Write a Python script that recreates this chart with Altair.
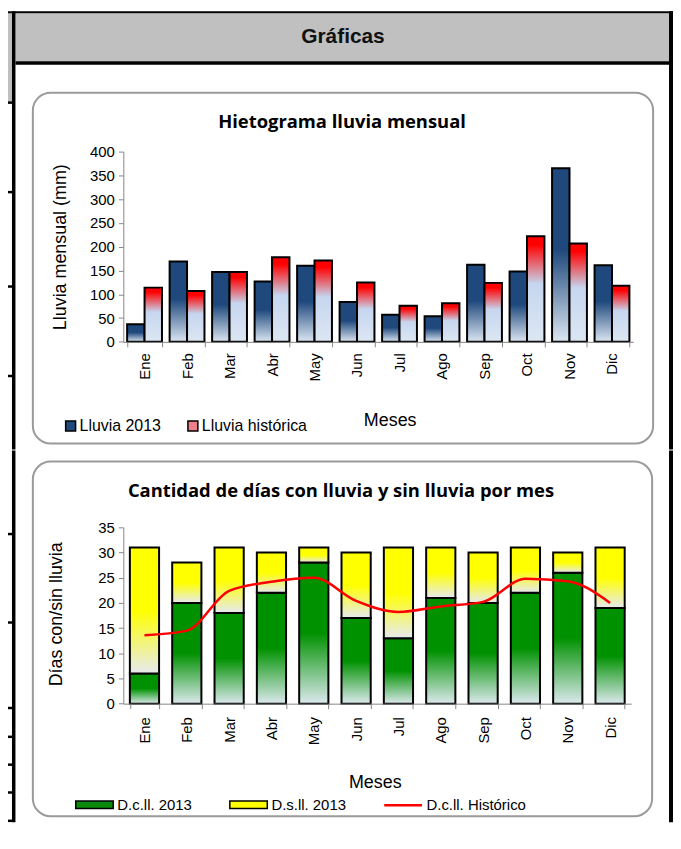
import altair as alt
import pandas as pd

# ---------------- data ----------------
meses = ['Ene', 'Feb', 'Mar', 'Abr', 'May', 'Jun', 'Jul', 'Ago', 'Sep', 'Oct', 'Nov', 'Dic']
series_lluvia = ['Lluvia 2013', 'Lluvia histórica']
lluvia_2013 = [37, 169, 147, 127, 160, 84, 57, 54, 162, 148, 365, 161]
lluvia_hist = [114, 107, 147, 178, 171, 125, 76, 81, 124, 222, 207, 118]

tipos_dias = ['D.c.ll. 2013', 'D.s.ll. 2013']
dias_mes = [31, 28, 31, 30, 31, 30, 31, 31, 30, 31, 30, 31]
dcll_2013 = [6, 20, 18, 22, 28, 17, 13, 21, 20, 22, 26, 19]
nombre_hist = 'D.c.ll. Histórico'
dcll_hist = [13.6, 14.5, 22.4, 24.2, 25.0, 20.4, 18.2, 19.3, 20.2, 24.8, 24.3, 20.0]

dsll_2013 = [d - c for d, c in zip(dias_mes, dcll_2013)]

df_ll = pd.DataFrame({
    'mes': meses * 2,
    'serie': [s for s in series_lluvia for _ in meses],
    'mm': lluvia_2013 + lluvia_hist,
})
df_d = pd.DataFrame({
    'mes': meses * 2,
    'tipo': [t for t in tipos_dias for _ in meses],
    'dias': dcll_2013 + dsll_2013,
    'orden': [0] * 12 + [1] * 12,
})
df_h = pd.DataFrame({'mes': meses, 'serie_h': [nombre_hist] * 12, 'dias': dcll_hist})

# ---------------- styles ----------------
FONT = 'Liberation Sans'
TFONT = 'Open Sans'


def grad(stops):
    return {"gradient": "linear", "x1": 0, "y1": 0, "x2": 0, "y2": 1,
            "stops": [{"offset": o, "color": c} for o, c in stops]}


GRAD_AZUL = grad([(0, '#1F497D'), (0.47, '#1F497D'), (1, '#DCE6F2')])
GRAD_ROJO = grad([(0, '#FF0000'), (0.08, '#FF0000'), (0.45, '#C6D6EF'), (1, '#DDE7F3')])
GRAD_VERDE = grad([(0, '#009100'), (0.5, '#009100'), (1, '#DCE9EE')])
GRAD_AMAR = grad([(0, '#FFFF00'), (0.5, '#FFFF00'), (1, '#E6EAF0')])

ONE = alt.Data(values=[{"k": 1}])


def box(x, x2, y, y2, **kw):
    return alt.Chart(ONE).mark_rect(**kw).encode(
        x=alt.value(x), x2=alt.value(x2), y=alt.value(y), y2=alt.value(y2))


def label(x, y, text, **kw):
    return alt.Chart(ONE).mark_text(text=text, **kw).encode(x=alt.value(x), y=alt.value(y))


ax_common = dict(labelFont=FONT, labelFontSize=15, labelColor='black',
                 domainColor='#868686', tickColor='#868686', tickSize=5, grid=False,
                 titleFont=FONT, titleFontSize=18, titleFontWeight='normal', titleColor='black',
                 zindex=1)

# ---------------- chart 1 ----------------
W1, H1 = 513, 191.4
xs1 = alt.Scale(paddingInner=0.18, paddingOuter=0.09)
x1 = alt.X('mes:N', sort=meses, scale=xs1,
           axis=alt.Axis(labelAngle=270, tickBand='extent', labelPadding=6, title='Meses',
                         titleX=268, titleY=79, titleBaseline='middle', titleAlign='center',
                         **ax_common))
y1 = alt.Y('mm:Q', scale=alt.Scale(domain=[0, 400]),
           axis=alt.Axis(values=list(range(0, 401, 50)), labelPadding=4,
                         title='Lluvia mensual (mm)', titleX=-63, titleY=H1 / 2,
                         titleAngle=270, titleAlign='center', titleBaseline='middle',
                         **ax_common))
xo1 = alt.XOffset('serie:N', sort=series_lluvia, scale=alt.Scale(paddingInner=0, paddingOuter=0))

bars1 = alt.Chart(df_ll).mark_bar(stroke='black', strokeWidth=2).encode(
    x=x1, xOffset=xo1, y=y1,
    fill=alt.condition(alt.datum.serie == series_lluvia[0], alt.value(GRAD_AZUL), alt.value(GRAD_ROJO)),
)
leg1 = alt.Chart(df_ll).mark_square(opacity=0, size=1, stroke='black').encode(
    x=alt.value(0), y=alt.value(0),
    color=alt.Color('serie:N', sort=series_lluvia,
                    scale=alt.Scale(domain=series_lluvia, range=['#1F497D', '#EE7F8C']),
                    legend=alt.Legend(title=None, orient='none', legendX=-61, legendY=268,
                                      direction='horizontal', symbolType='square', symbolSize=100,
                                      symbolStrokeColor='black', symbolStrokeWidth=1.5,
                                      symbolOpacity=1, labelFont=FONT, labelFontSize=16,
                                      labelColor='black', labelOffset=1, columnPadding=24,
                                      padding=0)),
)

deco1 = [
    box(-116, 553, -141.3, 299.7, fill='white'),
    box(-116, 553, -141.3, -138.8, fill='black'),
    box(-108.5, 549, -138.8, -90.8, fill='#C0C0C0'),
    box(-108.5, 553, -90.8, -87.3, fill='black'),
    box(-116, -112, -138.8, -49.3, fill='#C0C0C0'),
    box(-112, -108.5, -141.3, 299.7, fill='black'),
    box(549, 553, -141.3, 299.7, fill='black'),
] + [box(-116, -112, yy, yy + 2.5, fill='black') for yy in (-50.5, 39.5, 134.5, 224.5)] + [
    box(-91, 533, -59.3, 293.7, filled=False, stroke='#9A9A9A', strokeWidth=2, cornerRadius=18),
    label(221, -115.3, 'Gráficas', font=FONT, fontSize=21, fontWeight='bold', color='#111111',
          align='center', baseline='middle'),
    label(220, -29.3, 'Hietograma lluvia mensual', font=TFONT, fontSize=18.5, fontWeight='bold',
          color='black', align='center', baseline='middle'),
]

chart1 = alt.layer(*deco1, bars1, leg1).properties(width=W1, height=H1)

# ---------------- chart 2 ----------------
W2, H2 = 511, 177.4
xs2 = alt.Scale(paddingInner=0.31, paddingOuter=0.155)
x2 = alt.X('mes:N', sort=meses, scale=xs2,
           axis=alt.Axis(labelAngle=270, tickBand='extent', labelPadding=8, title='Meses',
                         titleX=253, titleY=79, titleBaseline='middle', titleAlign='center',
                         **ax_common))
ys2 = alt.Scale(domain=[0, 35])
ax_y2 = alt.Axis(values=list(range(0, 36, 5)), labelPadding=4,
                 title='Días con/sin lluvia', titleX=-67, titleY=87,
                 titleAngle=270, titleAlign='center', titleBaseline='middle',
                 **ax_common)

bars2 = alt.Chart(df_d).mark_bar(stroke='black', strokeWidth=2).encode(
    x=x2, y=alt.Y('dias:Q', stack='zero', scale=ys2, axis=ax_y2), order=alt.Order('orden:Q'),
    fill=alt.condition(alt.datum.tipo == tipos_dias[0], alt.value(GRAD_VERDE), alt.value(GRAD_AMAR)),
)
WIDE = 'M-1,-0.2H1V0.2H-1Z'
leg2 = alt.Chart(df_d).mark_square(opacity=0, size=1, stroke='black').encode(
    x=alt.value(0), y=alt.value(0),
    color=alt.Color('tipo:N', sort=tipos_dias,
                    scale=alt.Scale(domain=tipos_dias, range=['#0A8A0A', '#FFFF00']),
                    legend=alt.Legend(title=None, orient='none', legendX=-49, legendY=259,
                                      direction='horizontal', symbolType=WIDE, symbolSize=1420,
                                      symbolStrokeColor='black', symbolStrokeWidth=1.5,
                                      symbolOpacity=1, labelFont=FONT, labelFontSize=15,
                                      labelColor='black', labelOffset=3, columnPadding=34,
                                      padding=0)),
)
line2 = alt.Chart(df_h).mark_line(interpolate='monotone', strokeWidth=2.5).encode(
    x=x2, y=alt.Y('dias:Q', scale=ys2, axis=ax_y2),
    stroke=alt.Stroke('serie_h:N', scale=alt.Scale(domain=[nombre_hist], range=['#FF0000']),
                      legend=alt.Legend(title=None, orient='none', legendX=261, legendY=259,
                                        symbolType='stroke', symbolSize=1444, symbolStrokeWidth=2.5,
                                        labelFont=FONT, labelFontSize=15, labelColor='black',
                                        labelOffset=3, padding=0)),
)

deco2 = [
    box(-116, 553, -77.3, 296.7, fill='white'),
    box(-112, -108.5, -77.3, 296.7, fill='black'),
    box(549, 553, -77.3, 296.7, fill='black'),
] + [box(-116, -112, yy, yy + 2.5, fill='black') for yy in (5.5, 94.5, 180.5, 209.5, 237.5, 265.5, 294)] + [
    box(-91, 532, -66.3, 290.7, filled=False, stroke='#9A9A9A', strokeWidth=2, cornerRadius=18),
    label(219, -36.3, 'Cantidad de días con lluvia y sin lluvia por mes', font=TFONT, fontSize=18.5,
          fontWeight='bold', color='black', align='center', baseline='middle'),
]

chart2 = alt.layer(*deco2, bars2, leg2, line2).properties(width=W2, height=H2)

chart = alt.vconcat(chart1, chart2, spacing=0).resolve_scale(
    color='independent', stroke='independent'
).resolve_legend(
    color='independent', stroke='independent'
).properties(
    padding=0, background='white'
).configure_view(strokeWidth=0)

chart.save("out.html", embed_options={"renderer": "svg", "actions": False})
